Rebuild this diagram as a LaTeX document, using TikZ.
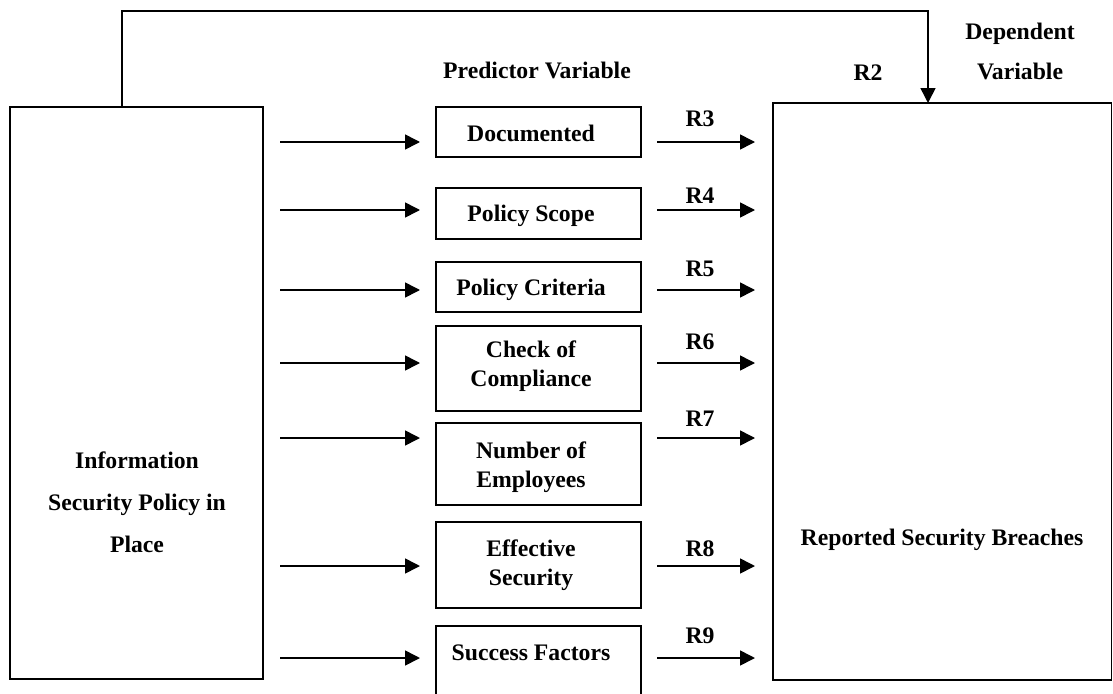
\documentclass[tikz,border=0pt]{standalone}
\usepackage{fontspec}
\setmainfont{Liberation Serif}
\usetikzlibrary{arrows.meta}
\begin{document}
\begin{tikzpicture}[x=1pt,y=-1pt,
  line width=1.6pt,
  box/.style={draw, rectangle, inner sep=0pt, outer sep=0pt},
  txt/.style={font=\bfseries\fontsize{23.7}{29}\selectfont, inner sep=0pt, align=center},
  arr/.style={-{Triangle[length=15pt,width=15pt]}},
]
\fill[white] (0,0) rectangle (1113,693);
\clip (0,0) rectangle (1113,693);

% independent and dependent blocks
\node[box, minimum width=253, minimum height=572] (ispp) at (136.5,393) {};
\node[box, minimum width=338.5, minimum height=577] (rp) at (942.25,391.5) {};

% predictor blocks
\node[box, minimum width=205, minimum height=50] (doc)   at (538.5,132)   {};
\node[box, minimum width=205, minimum height=51] (scope) at (538.5,213.5) {};
\node[box, minimum width=205, minimum height=50] (crit)  at (538.5,287)   {};
\node[box, minimum width=205, minimum height=85] (check) at (538.5,368.5) {};
\node[box, minimum width=205, minimum height=82] (emp)   at (538.5,464)   {};
\node[box, minimum width=205, minimum height=86] (eff)   at (538.5,565)   {};
\node[box, minimum width=205, minimum height=80] (succ)  at (538.5,666)   {};

% texts
\node[txt, font=\bfseries\fontsize{23.7}{42}\selectfont] (ispt) at (137,502)
  {Information\\Security Policy in\\Place};
\node[txt, anchor=base] (rpt) at (942,545) {Reported Security Breaches};
\node[txt, anchor=base] (pv) at (537,78) {Predictor Variable};
\node[txt, font=\bfseries\fontsize{23.7}{40}\selectfont] (dv) at (1020,51.85) {Dependent\\Variable};
\node[txt, anchor=base] (r2) at (868,80) {R2};

\node[txt, anchor=base] (doct)   at (531,141) {Documented};
\node[txt, anchor=base] (scopet) at (531,221) {Policy Scope};
\node[txt, anchor=base] (critt)  at (531,295) {Policy Criteria};
\node[txt] (checkt) at (531,365.85) {Check of\\Compliance};
\node[txt] (empt)   at (531,466.85) {Number of\\Employees};
\node[txt] (efft)   at (531,564.85) {Effective\\Security};
\node[txt, anchor=base] (succt)  at (531,660) {Success Factors};

% feedback path R2
\coordinate (t1) at (122,11);
\coordinate (t2) at (928,11);
\draw[arr] (ispp.north -| t1) -- (t1) -- (t2) -- (rp.north -| t2);

% rows of arrows with their labels
\foreach \b/\ry/\r/\ly in {doc/142/R3/126, scope/210/R4/203, crit/290/R5/276,
    check/363/R6/349, emp/438/R7/426, eff/566/R8/556, succ/658/R9/643} {
  \coordinate (row) at (0,\ry);
  \draw[arr, shorten <=17pt, shorten >=16pt] (ispp.east |- row) -- (\b.west |- row);
  \draw[arr, shorten <=16pt, shorten >=18pt] (\b.east |- row) -- (rp.west |- row);
  \node[txt, anchor=base] (lab-\r) at (700,\ly) {\r};
}
\end{tikzpicture}
\end{document}
